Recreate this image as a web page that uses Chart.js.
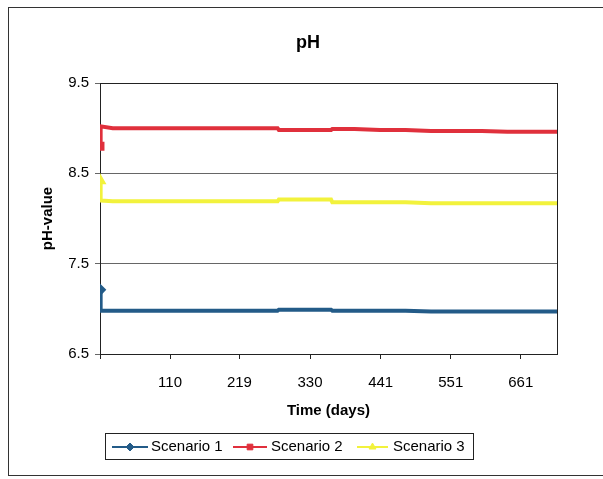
<!DOCTYPE html>
<html><head><meta charset="utf-8">
<script src="https://cdn.jsdelivr.net/npm/chart.js@4.4.0/dist/chart.umd.min.js"></script>
<style>
html,body{margin:0;padding:0;background:#fff;}
#wrap{position:relative;width:603px;height:479px;overflow:hidden;background:#fff;}
#frame{position:absolute;left:8px;top:7px;width:620px;height:469px;border:1px solid #333;box-sizing:border-box;pointer-events:none;}
canvas{position:absolute;left:0;top:0;}
</style></head><body>
<div id="wrap"><canvas id="c" width="603" height="479"></canvas><div id="frame"></div></div>
<script>
// ---- data ----
const days = [0, 1, 20, 50, 80, 110, 140, 170, 200, 230, 260, 279, 281, 300, 330, 363, 365, 400, 440, 480, 520, 560, 600, 640, 680, 718];
const scenario1 = [7.21, 6.98, 6.98, 6.98, 6.98, 6.98, 6.98, 6.98, 6.98, 6.98, 6.98, 6.98, 6.99, 6.99, 6.99, 6.99, 6.98, 6.98, 6.98, 6.98, 6.97, 6.97, 6.97, 6.97, 6.97, 6.97];
const scenario2 = [8.80, 9.02, 9.00, 9.00, 9.00, 9.00, 9.00, 9.00, 9.00, 9.00, 9.00, 9.00, 8.98, 8.98, 8.98, 8.98, 8.99, 8.99, 8.98, 8.98, 8.97, 8.97, 8.97, 8.96, 8.96, 8.96];
const scenario3 = [8.42, 8.20, 8.19, 8.19, 8.19, 8.19, 8.19, 8.19, 8.19, 8.19, 8.19, 8.19, 8.21, 8.21, 8.21, 8.21, 8.18, 8.18, 8.18, 8.18, 8.17, 8.17, 8.17, 8.17, 8.17, 8.17];
const seriesNames = ['Scenario 1', 'Scenario 2', 'Scenario 3'];
const xTickValues = [0, 110, 219, 330, 441, 551, 661];
const yTickValues = [6.5, 7.5, 8.5, 9.5];
const chartTitle = 'pH';
const xTitle = 'Time (days)';
const yTitle = 'pH-value';

const colors = ['#235b88', '#e0303c', '#f2f23c'];
const markers = ['rectRot', 'rect', 'triangle'];

Chart.defaults.font.family = '"Liberation Sans", Arial, sans-serif';
Chart.defaults.color = '#000';

function mk(i, vals) {
  return {
    label: seriesNames[i],
    data: days.map((d, k) => ({x: d, y: vals[k]})),
    borderColor: colors[i],
    backgroundColor: colors[i],
    borderWidth: 4,
    pointStyle: markers[i],
    pointRadius: c => c.dataIndex === 0 ? 3.5 : 0,
    pointBackgroundColor: colors[i],
    pointBorderColor: colors[i],
    tension: 0
  };
}

const titleShift = {
  id: 'titleShift',
  afterLayout(chart) {
    const t = chart.titleBlock;
    if (t) { t.left = 59; t.right = 557; }
  }
};

const plotFrame = {
  id: 'plotFrame',
  beforeDatasetsDraw(chart) {
    const a = chart.chartArea, ctx = chart.ctx;
    ctx.save();
    ctx.strokeStyle = '#222';
    ctx.lineWidth = 1;
    ctx.strokeRect(Math.round(a.left) + 0.5, Math.round(a.top) + 0.5, Math.round(a.right - a.left), Math.round(a.bottom - a.top));
    ctx.restore();
  }
};

const legendBox = {
  id: 'legendBox',
  afterDraw(chart) {
    const ctx = chart.ctx;
    ctx.save();
    ctx.strokeStyle = '#222';
    ctx.lineWidth = 1;
    ctx.strokeRect(105.5, 433.5, 368, 26);
    const items = [{x0: 112, x1: 148, tx: 151}, {x0: 233, x1: 267, tx: 271}, {x0: 357, x1: 388, tx: 393}];
    const cy = 447;
    chart.data.datasets.forEach((ds, i) => {
      const it = items[i];
      ctx.strokeStyle = ds.borderColor;
      ctx.lineWidth = 2;
      ctx.beginPath();
      ctx.moveTo(it.x0, cy);
      ctx.lineTo(it.x1, cy);
      ctx.stroke();
      ctx.fillStyle = ds.borderColor;
      ctx.lineWidth = 1;
      Chart.helpers.drawPoint(ctx, {pointStyle: ds.pointStyle, radius: 4, borderWidth: 1, rotation: 0}, (it.x0 + it.x1) / 2, cy);
      ctx.fillStyle = '#000';
      ctx.font = '15px "Liberation Sans", Arial, sans-serif';
      ctx.textBaseline = 'middle';
      ctx.textAlign = 'left';
      ctx.fillText(ds.label, it.tx, cy);
    });
    ctx.restore();
  }
};

new Chart(document.getElementById('c'), {
  type: 'line',
  data: { datasets: [mk(0, scenario1), mk(1, scenario2), mk(2, scenario3)] },
  plugins: [titleShift, plotFrame, legendBox],
  options: {
    responsive: false,
    animation: false,
    devicePixelRatio: 1,
    layout: { padding: { left: 0, right: 46, top: 0, bottom: 59 } },
    plugins: {
      legend: { display: false },
      tooltip: { enabled: false },
      title: {
        display: true,
        text: chartTitle,
        font: { size: 18, weight: 'bold' },
        color: '#000',
        padding: { top: 32, bottom: 29.4 }
      }
    },
    scales: {
      x: {
        type: 'linear',
        min: 0,
        max: 718,
        afterBuildTicks: s => { s.ticks = xTickValues.map(v => ({value: v})); },
        afterFit: s => { s.height = 66; },
        ticks: {
          autoSkip: false, maxRotation: 0, padding: 15,
          font: { size: 15 },
          callback: v => v === 0 ? '' : String(v)
        },
        grid: { drawOnChartArea: false, drawTicks: true, tickLength: 5, color: '#222' },
        border: { display: true, color: '#222' },
        title: { display: true, text: xTitle, font: { size: 15, weight: 'bold' }, padding: { top: 0, bottom: 0 } }
      },
      y: {
        min: 6.5,
        max: 9.5,
        afterBuildTicks: s => { s.ticks = yTickValues.map(v => ({value: v})); },
        afterFit: s => { s.width = 100; },
        ticks: { padding: 6, font: { size: 15 }, callback: v => Number(v).toFixed(1) },
        grid: { color: '#666', tickLength: 5, drawTicks: true },
        border: { display: true, color: '#222' },
        title: { display: true, text: yTitle, font: { size: 15, weight: 'bold' }, padding: { top: 39, bottom: 0 } }
      }
    }
  }
});
</script>
</body></html>
